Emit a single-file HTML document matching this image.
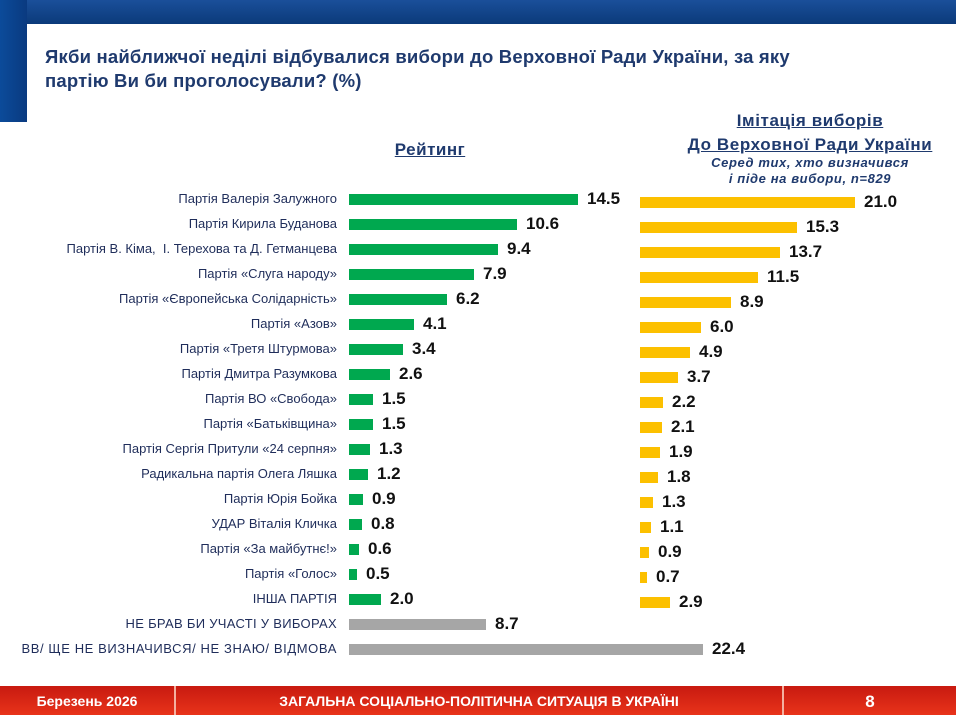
<!DOCTYPE html>
<html><head><meta charset="utf-8"><style>
body{margin:0;width:956px;height:715px;position:relative;overflow:hidden;background:#fff;font-family:"Liberation Sans",sans-serif}
.a{position:absolute}
.l{position:absolute;right:619px;font-size:13px;color:#1f2d5a;white-space:nowrap;line-height:14px}
.b{position:absolute;height:11px}
.g{background:#00a84f}.y{background:#fcc000}.s{background:#a6a6a6}
.v{position:absolute;font-size:17px;font-weight:bold;color:#111;line-height:16px}
</style></head><body>
<div class="a" style="left:0;top:0;width:956px;height:24px;background:linear-gradient(#1a4f9a,#0b3a7a)"></div>
<div class="a" style="left:0;top:0;width:27px;height:122px;background:linear-gradient(90deg,#0b4b9a,#0a3a80)"></div>
<div class="a" style="left:45px;top:45px;font-size:18.5px;font-weight:bold;color:#1f3a6e;line-height:24px;letter-spacing:0.2px">Якби найближчої неділі відбувалися вибори до Верховної Ради України, за яку<br>партію Ви би проголосували? (%)</div>
<div class="a" style="left:360px;top:140px;width:140px;text-align:center;font-size:17px;font-weight:bold;color:#1f3a6e;text-decoration:underline;letter-spacing:0.5px">Рейтинг</div>
<div class="a" style="left:650px;top:109px;width:320px;text-align:center;font-size:17px;font-weight:bold;color:#1f3a6e;text-decoration:underline;line-height:24px;letter-spacing:0.6px">Імітація виборів <br>До Верховної Ради України</div>
<div class="a" style="left:650px;top:155px;width:320px;text-align:center;font-size:13px;font-weight:bold;font-style:italic;color:#1f3a6e;line-height:16px;letter-spacing:0.6px">Серед тих, хто визначився<br>і піде на вибори, n=829</div>

<div class="l" style="top:192px">Партія Валерія Залужного</div>
<div class="l" style="top:217px">Партія Кирила Буданова</div>
<div class="l" style="top:242px">Партія В. Кіма,&nbsp; І. Терехова та Д. Гетманцева</div>
<div class="l" style="top:267px">Партія «Слуга народу»</div>
<div class="l" style="top:292px">Партія «Європейська Солідарність»</div>
<div class="l" style="top:317px">Партія «Азов»</div>
<div class="l" style="top:342px">Партія «Третя Штурмова»</div>
<div class="l" style="top:367px">Партія Дмитра Разумкова</div>
<div class="l" style="top:392px">Партія ВО «Свобода»</div>
<div class="l" style="top:417px">Партія «Батьківщина»</div>
<div class="l" style="top:442px">Партія Сергія Притули «24 серпня»</div>
<div class="l" style="top:467px">Радикальна партія Олега Ляшка</div>
<div class="l" style="top:492px">Партія Юрія Бойка</div>
<div class="l" style="top:517px">УДАР Віталія Кличка</div>
<div class="l" style="top:542px">Партія «За майбутнє!»</div>
<div class="l" style="top:567px">Партія «Голос»</div>
<div class="l" style="top:592px">ІНША ПАРТІЯ</div>
<div class="l" style="top:617px;letter-spacing:0.3px">НЕ БРАВ БИ УЧАСТІ У ВИБОРАХ</div>
<div class="l" style="top:642px;letter-spacing:0.6px">ВВ/ ЩЕ НЕ ВИЗНАЧИВСЯ/ НЕ ЗНАЮ/ ВІДМОВА</div>

<div class="b g" style="left:349px;top:194px;width:229px"></div><div class="v" style="left:587px;top:191px">14.5</div>
<div class="b g" style="left:349px;top:219px;width:168px"></div><div class="v" style="left:526px;top:216px">10.6</div>
<div class="b g" style="left:349px;top:244px;width:149px"></div><div class="v" style="left:507px;top:241px">9.4</div>
<div class="b g" style="left:349px;top:269px;width:125px"></div><div class="v" style="left:483px;top:266px">7.9</div>
<div class="b g" style="left:349px;top:294px;width:98px"></div><div class="v" style="left:456px;top:291px">6.2</div>
<div class="b g" style="left:349px;top:319px;width:65px"></div><div class="v" style="left:423px;top:316px">4.1</div>
<div class="b g" style="left:349px;top:344px;width:54px"></div><div class="v" style="left:412px;top:341px">3.4</div>
<div class="b g" style="left:349px;top:369px;width:41px"></div><div class="v" style="left:399px;top:366px">2.6</div>
<div class="b g" style="left:349px;top:394px;width:24px"></div><div class="v" style="left:382px;top:391px">1.5</div>
<div class="b g" style="left:349px;top:419px;width:24px"></div><div class="v" style="left:382px;top:416px">1.5</div>
<div class="b g" style="left:349px;top:444px;width:21px"></div><div class="v" style="left:379px;top:441px">1.3</div>
<div class="b g" style="left:349px;top:469px;width:19px"></div><div class="v" style="left:377px;top:466px">1.2</div>
<div class="b g" style="left:349px;top:494px;width:14px"></div><div class="v" style="left:372px;top:491px">0.9</div>
<div class="b g" style="left:349px;top:519px;width:13px"></div><div class="v" style="left:371px;top:516px">0.8</div>
<div class="b g" style="left:349px;top:544px;width:10px"></div><div class="v" style="left:368px;top:541px">0.6</div>
<div class="b g" style="left:349px;top:569px;width:8px"></div><div class="v" style="left:366px;top:566px">0.5</div>
<div class="b g" style="left:349px;top:594px;width:32px"></div><div class="v" style="left:390px;top:591px">2.0</div>
<div class="b s" style="left:349px;top:619px;width:137px"></div><div class="v" style="left:495px;top:616px">8.7</div>
<div class="b s" style="left:349px;top:644px;width:354px"></div><div class="v" style="left:712px;top:641px">22.4</div>

<div class="b y" style="left:640px;top:197px;width:215px"></div><div class="v" style="left:864px;top:194px">21.0</div>
<div class="b y" style="left:640px;top:222px;width:157px"></div><div class="v" style="left:806px;top:219px">15.3</div>
<div class="b y" style="left:640px;top:247px;width:140px"></div><div class="v" style="left:789px;top:244px">13.7</div>
<div class="b y" style="left:640px;top:272px;width:118px"></div><div class="v" style="left:767px;top:269px">11.5</div>
<div class="b y" style="left:640px;top:297px;width:91px"></div><div class="v" style="left:740px;top:294px">8.9</div>
<div class="b y" style="left:640px;top:322px;width:61px"></div><div class="v" style="left:710px;top:319px">6.0</div>
<div class="b y" style="left:640px;top:347px;width:50px"></div><div class="v" style="left:699px;top:344px">4.9</div>
<div class="b y" style="left:640px;top:372px;width:38px"></div><div class="v" style="left:687px;top:369px">3.7</div>
<div class="b y" style="left:640px;top:397px;width:23px"></div><div class="v" style="left:672px;top:394px">2.2</div>
<div class="b y" style="left:640px;top:422px;width:22px"></div><div class="v" style="left:671px;top:419px">2.1</div>
<div class="b y" style="left:640px;top:447px;width:20px"></div><div class="v" style="left:669px;top:444px">1.9</div>
<div class="b y" style="left:640px;top:472px;width:18px"></div><div class="v" style="left:667px;top:469px">1.8</div>
<div class="b y" style="left:640px;top:497px;width:13px"></div><div class="v" style="left:662px;top:494px">1.3</div>
<div class="b y" style="left:640px;top:522px;width:11px"></div><div class="v" style="left:660px;top:519px">1.1</div>
<div class="b y" style="left:640px;top:547px;width:9px"></div><div class="v" style="left:658px;top:544px">0.9</div>
<div class="b y" style="left:640px;top:572px;width:7px"></div><div class="v" style="left:656px;top:569px">0.7</div>
<div class="b y" style="left:640px;top:597px;width:30px"></div><div class="v" style="left:679px;top:594px">2.9</div>

<div class="a" style="left:0;top:686px;width:956px;height:29px;background:linear-gradient(#c81a10,#e8331a)"></div>
<div class="a" style="left:174px;top:686px;width:2px;height:29px;background:#f4b0a0"></div>
<div class="a" style="left:782px;top:686px;width:2px;height:29px;background:#f4b0a0"></div>
<div class="a" style="left:0;top:693px;width:174px;text-align:center;color:#fff;font-weight:bold;font-size:14px">Березень 2026</div>
<div class="a" style="left:176px;top:693px;width:606px;text-align:center;color:#fff;font-weight:bold;font-size:14px">ЗАГАЛЬНА СОЦІАЛЬНО-ПОЛІТИЧНА СИТУАЦІЯ В УКРАЇНІ</div>
<div class="a" style="left:784px;top:692px;width:172px;text-align:center;color:#fff;font-weight:bold;font-size:17px">8</div>
</body></html>
